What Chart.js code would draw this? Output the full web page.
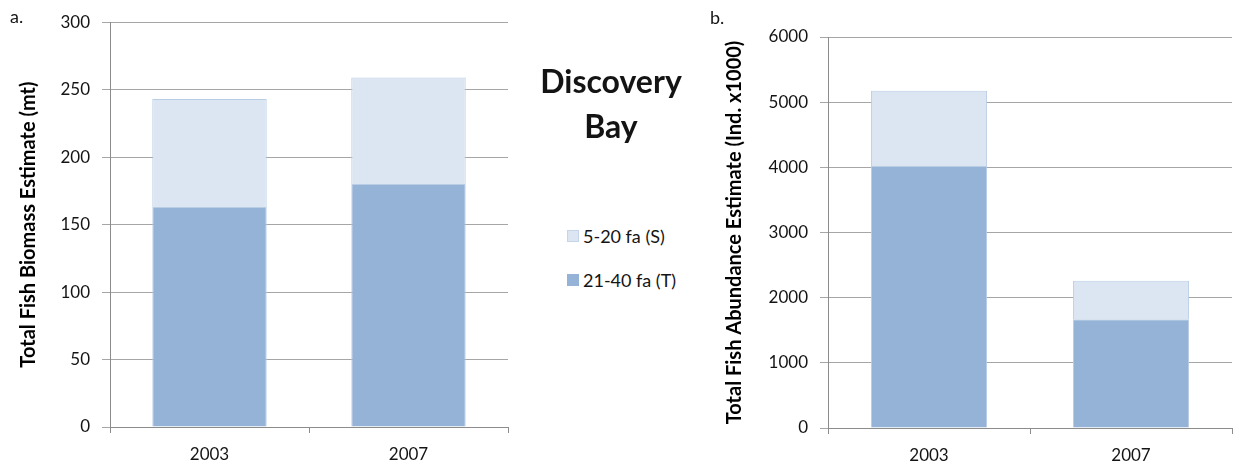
<!DOCTYPE html>
<html>
<head>
<meta charset="utf-8">
<script src="https://cdn.jsdelivr.net/npm/chart.js@4.4.0/dist/chart.umd.min.js"></script>
<style>
  body { margin: 0; background: #fff; font-family: Lato, sans-serif; color: #141414; }
  #wrap { position: relative; width: 1235px; height: 463px; overflow: hidden; }
  .box { position: absolute; top: 0; height: 463px; }
  .tag { position: absolute; font-size: 18px; line-height: 18px; }
  #title { position: absolute; left: 511px; width: 200px; top: 58px; text-align: center;
           font-weight: bold; font-size: 32px; line-height: 45px; }
  .sw { position: absolute; left: 567px; width: 12px; height: 12px; box-sizing: border-box; }
  .leg { position: absolute; left: 583px; font-size: 18px; line-height: 18px; white-space: nowrap; }
</style>
</head>
<body>
<div id="wrap">
  <div class="box" style="left:0;width:520px"><canvas id="biomass"></canvas></div>
  <div class="box" style="left:700px;width:535px"><canvas id="abundance"></canvas></div>
  <div class="tag" style="left:10px;top:7px">a.</div>
  <div class="tag" style="left:710px;top:8px">b.</div>
  <div id="title">Discovery<br>Bay</div>
  <div class="sw" style="top:230px;background:#dce6f2;border:1px solid #c5d5ea"></div>
  <div class="leg" style="top:227px">5-20 fa (S)</div>
  <div class="sw" style="top:274px;background:#95b3d7"></div>
  <div class="leg" style="top:271px">21-40 fa (T)</div>
</div>
<script>
// Discovery Bay survey totals
const years = ['2003', '2007'];
const seriesNames = ['5-20 fa (S)', '21-40 fa (T)'];

// a. biomass (mt)
const biomassDeep = [163, 180];     // 21-40 fa
const biomassShallow = [80, 79];    // 5-20 fa
const biomassTicks = [0, 50, 100, 150, 200, 250, 300];

// b. abundance (ind. x1000)
const abundDeep = [4020, 1670];
const abundShallow = [1155, 590];
const abundTicks = [0, 1000, 2000, 3000, 4000, 5000, 6000];

const font = { family: 'Lato, sans-serif', size: 17 };

function makeChart(id, deep, shallow, ticks, yTitle, opts) {
  const ctx = document.getElementById(id).getContext('2d');
  return new Chart(ctx, {
    type: 'bar',
    data: {
      labels: years,
      datasets: [
        { label: seriesNames[1], data: deep, backgroundColor: '#95b3d7',
          borderColor: '#b9cde5', borderWidth: 1, barPercentage: 0.575, categoryPercentage: 1 },
        { label: seriesNames[0], data: shallow, backgroundColor: '#dce6f2',
          borderColor: '#b9cde5', borderWidth: 1, barPercentage: 0.575, categoryPercentage: 1 }
      ]
    },
    options: {
      responsive: true,
      maintainAspectRatio: false,
      animation: false,
      layout: { padding: { top: opts.top, right: opts.right, left: 0, bottom: 0 } },
      plugins: { legend: { display: false }, tooltip: { enabled: false } },
      scales: {
        x: {
          stacked: true,
          grid: { drawOnChartArea: false, drawTicks: true, tickLength: 6, color: '#8c8c8c' },
          border: { color: '#8c8c8c' },
          ticks: { font: font, color: '#141414', padding: 11 },
          afterFit: function(s) { s.height = opts.bottom; }
        },
        y: {
          stacked: true,
          min: ticks[0],
          max: ticks[ticks.length - 1],
          afterBuildTicks: function(s) { s.ticks = ticks.map(v => ({ value: v })); },
          grid: { color: '#a6a6a6', tickLength: 8 },
          border: { color: '#8c8c8c' },
          ticks: { font: font, color: '#141414', padding: 12,
                   callback: function(v) { return String(v); } },
          title: { display: true, text: yTitle, color: '#000',
                   font: { family: 'Lato, sans-serif', size: 20, weight: 'bold' },
                   padding: { top: opts.titleTop, bottom: 0 } },
          afterFit: function(s) { s.width = opts.yWidth; }
        }
      }
    }
  });
}

window.onload = function() {
  makeChart('biomass', biomassDeep, biomassShallow, biomassTicks,
    'Total Fish Biomass Estimate (mt)',
    { top: 19, right: 12, bottom: 36, yWidth: 110, titleTop: 17 });
  makeChart('abundance', abundDeep, abundShallow, abundTicks,
    'Total Fish Abundance Estimate (Ind. x1000)',
    { top: 37, right: 3, bottom: 35, yWidth: 128, titleTop: 23 });
};
</script>
</body>
</html>
